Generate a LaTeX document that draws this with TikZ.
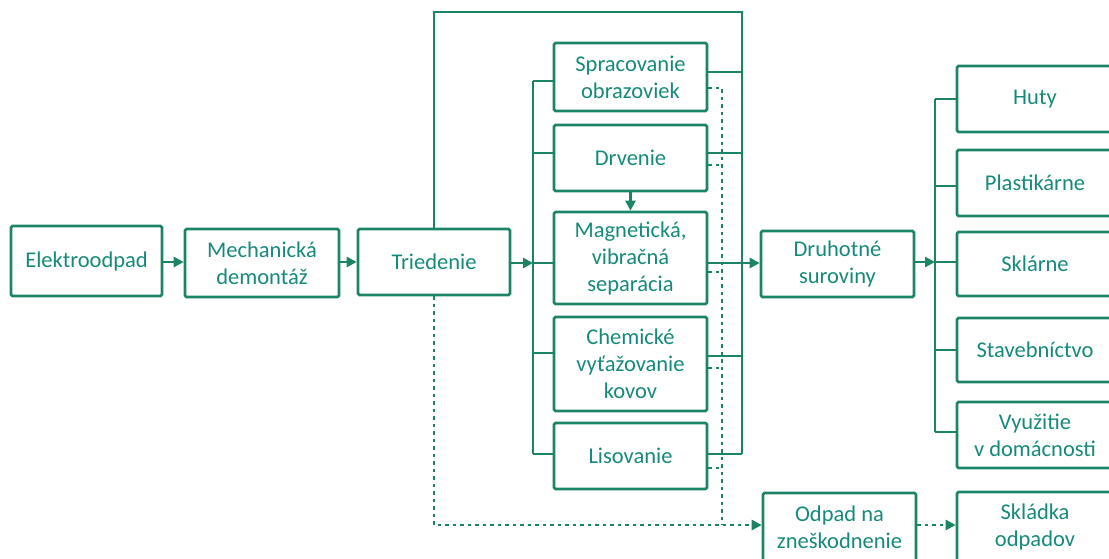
\documentclass[tikz,border=0pt]{standalone}
\usepackage{fontspec}
\setmainfont{Carlito}
\usetikzlibrary{arrows.meta}
\definecolor{ln}{RGB}{28,132,102}
\definecolor{tx}{RGB}{22,138,122}
\tikzset{
  box/.style={draw=ln, line width=2.6pt, rounded corners=1.5pt, inner sep=0pt, align=center,
    text=tx, font=\fontsize{22.5}{27}\selectfont},
  conn/.style={draw=ln, line width=2.6pt},
  dconn/.style={draw=ln, line width=2.6pt, dash pattern=on 3.5pt off 4pt},
  arr/.style={-{Triangle[length=10pt,width=10pt]}},
}
\begin{document}
\begin{tikzpicture}[x=1pt,y=-1pt]
\useasboundingbox (0,0) rectangle (1109,558);
\clip (0,0) rectangle (1109,558);
% left chain
\node[box, minimum width=151pt, minimum height=70pt] (el) at (86.5,261) {Elektroodpad};
\node[box, minimum width=154pt, minimum height=68pt] (mech) at (262,263) {Mechanická\\demontáž};
\node[box, minimum width=152pt, minimum height=66pt] (tri) at (434,262) {Triedenie};
% middle column
\node[box, minimum width=153pt, minimum height=68pt] (spr) at (630.5,77) {Spracovanie\\obrazoviek};
\node[box, minimum width=153pt, minimum height=66pt] (drv) at (630.5,158) {Drvenie};
\node[box, minimum width=153pt, minimum height=92pt] (mag) at (630.5,258) {Magnetická,\\vibračná\\separácia};
\node[box, minimum width=153pt, minimum height=94pt] (chem) at (630.5,364) {Chemické\\vyťažovanie\\kovov};
\node[box, minimum width=153pt, minimum height=66pt] (lis) at (630.5,456) {Lisovanie};
% right
\node[box, minimum width=153pt, minimum height=66pt] (dru) at (837.5,264) {Druhotné\\suroviny};
\node[box, minimum width=153pt, minimum height=68pt] (odp) at (839.5,527) {Odpad na\\zneškodnenie};
\node[box, minimum width=156pt, minimum height=66pt] (huty) at (1035,99) {Huty};
\node[box, minimum width=156pt, minimum height=66pt] (plast) at (1035,183) {Plastikárne};
\node[box, minimum width=156pt, minimum height=64pt] (skl) at (1035,264) {Sklárne};
\node[box, minimum width=156pt, minimum height=64pt] (stav) at (1035,350) {Stavebníctvo};
\node[box, minimum width=156pt, minimum height=66pt] (vyu) at (1035,435) {Využitie\\v domácnosti};
\node[box, minimum width=156pt, minimum height=69pt] (skld) at (1035,526.5) {Skládka\\odpadov};
% coordinates
\coordinate (lbT) at (533,81);
\coordinate (lbB) at (533,454);
\coordinate (lbM) at (533,263);
\coordinate (loopL) at (434,12);
\coordinate (loopR) at (742,12);
\coordinate (rbB) at (742,454);
\coordinate (dTop) at (722,88);
\coordinate (dBot) at (722,525);
\coordinate (dL) at (434,525);
\coordinate (rrT) at (935,99);
\coordinate (rrB) at (935,432);
\coordinate (rrM) at (935,262);
% main chain arrows
\draw[conn,arr] (el.east |- 0,262) -- (mech.west |- 0,262);
\draw[conn,arr] (mech.east |- 0,262) -- (tri.west |- 0,262);
\draw[conn,arr] (tri.east |- lbM) -- (lbM);
% left bus
\draw[conn] (lbT) -- (lbB);
\draw[conn] (lbT) -- (lbT -| spr.west);
\draw[conn] (lbB |- 0,153) -- (drv.west |- 0,153);
\draw[conn] (lbM) -- (mag.west |- lbM);
\draw[conn] (lbB |- 0,353) -- (chem.west |- 0,353);
\draw[conn] (lbB) -- (lbB -| lis.west);
% top loop and right bus
\draw[conn] (tri.north) -- (loopL) -- (loopR) -- (rbB);
\draw[conn] (spr.east |- 0,72) -- (loopR |- 0,72);
\draw[conn] (drv.east |- 0,153) -- (loopR |- 0,153);
\draw[conn] (chem.east |- 0,356) -- (loopR |- 0,356);
\draw[conn] (lis.east |- rbB) -- (rbB);
\draw[conn,arr] (mag.east |- 0,263) -- (dru.west |- 0,263);
% drvenie -> magneticka
\draw[conn,arr] (drv.south) -- (mag.north);
% druhotne -> right bus
\draw[conn,arr] (dru.east |- rrM) -- (rrM);
\draw[conn] (rrT) -- (rrB);
\draw[conn] (rrT) -- (huty.west |- rrT);
\draw[conn] (rrT |- 0,186) -- (plast.west |- 0,186);
\draw[conn] (rrM) -- (skl.west |- rrM);
\draw[conn] (rrT |- 0,350) -- (stav.west |- 0,350);
\draw[conn] (rrB) -- (vyu.west |- rrB);
% dashed waste lines
\draw[dconn] (spr.east |- dTop) -- (dTop) -- (dBot);
\draw[dconn] (drv.east |- 0,165) -- (dTop |- 0,165);
\draw[dconn] (mag.east |- 0,272) -- (dTop |- 0,272);
\draw[dconn] (chem.east |- 0,368) -- (dTop |- 0,368);
\draw[dconn] (lis.east |- 0,468) -- (dTop |- 0,468);
\draw[dconn,arr] (tri.south) -- (dL) -- (odp.west |- dL);
\draw[dconn,arr] (odp.east |- dL) -- (skld.west |- dL);
\end{tikzpicture}
\end{document}
